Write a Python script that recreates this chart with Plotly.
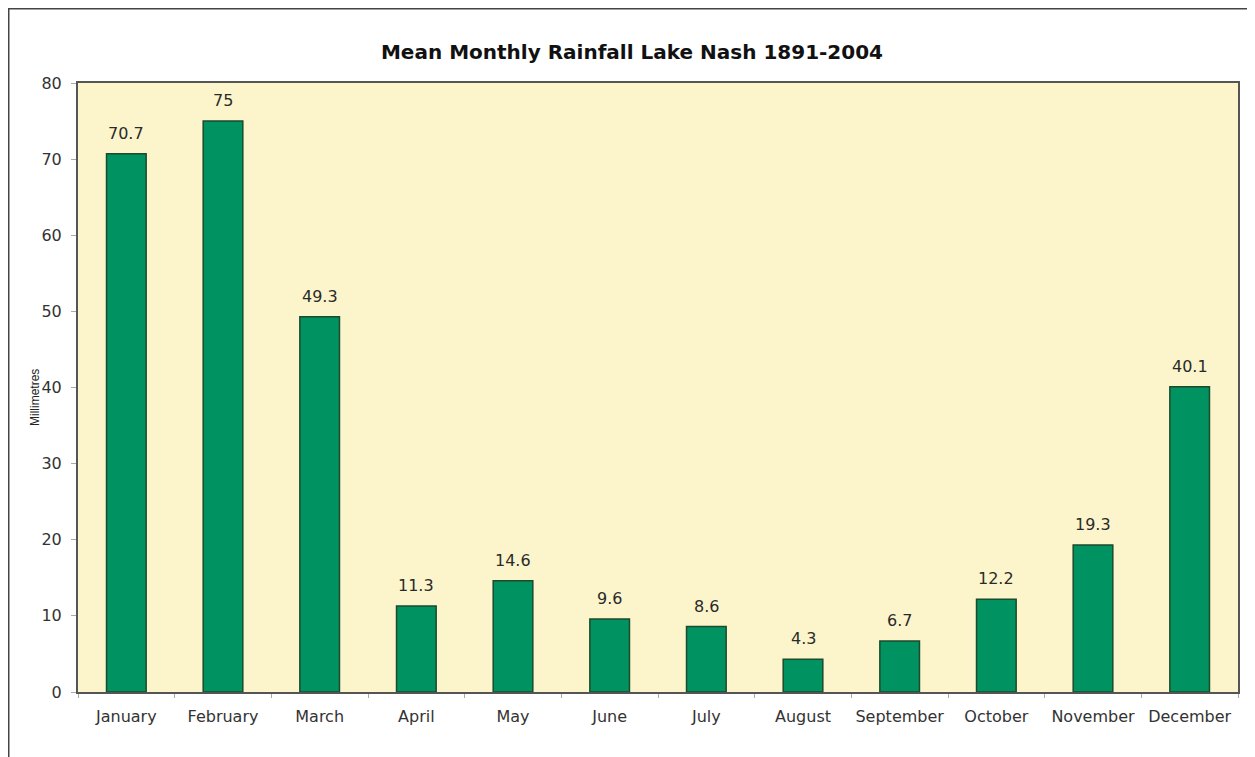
import plotly.graph_objects as go

months = ["January", "February", "March", "April", "May", "June", "July",
          "August", "September", "October", "November", "December"]
rainfall = [70.7, 75, 49.3, 11.3, 14.6, 9.6, 8.6, 4.3, 6.7, 12.2, 19.3, 40.1]
labels = ["70.7", "75", "49.3", "11.3", "14.6", "9.6", "8.6", "4.3", "6.7", "12.2", "19.3", "40.1"]
y_ticks = [0, 10, 20, 30, 40, 50, 60, 70, 80]

# page body has an 8px margin, so the figure is laid out 8px smaller
OFF = 8
W, H = 1255 - OFF, 757 - OFF
L, T = 78 - OFF, 83 - OFF
R = W - (1238 - OFF)
B = H - (692 - OFF)
pw, ph = W - L - R, H - T - B

def px_x(p):
    return (p - OFF - L) / pw

def px_y(p):
    return (H - B - (p - OFF)) / ph

FONT = "DejaVu Sans, Verdana, sans-serif"

fig = go.Figure()
fig.add_trace(go.Bar(
    x=months, y=rainfall,
    marker=dict(color="#009260", line=dict(color="#1b4a2c", width=1.5)),
    width=0.41, hoverinfo="x+y",
))

for m, v, t in zip(months, rainfall, labels):
    fig.add_annotation(x=m, y=v, text=t, showarrow=False, yanchor="bottom",
                       yshift=9, font=dict(family=FONT, size=16, color="#2a2a2a"))

fig.update_layout(
    width=W, height=H,
    margin=dict(l=L, r=R, t=T, b=B, autoexpand=False),
    paper_bgcolor="white", plot_bgcolor="#FCF5CC",
    showlegend=False,
    font=dict(family=FONT, size=16, color="#333333"),
    title=dict(text="<b>Mean Monthly Rainfall Lake Nash 1891-2004</b>",
               x=(632 - OFF) / W, xanchor="center", xref="container",
               y=1 - (52 - OFF) / H, yanchor="middle",
               font=dict(family=FONT, size=20, color="#111111")),
    xaxis=dict(showline=True, linecolor="#555555", linewidth=2, mirror=True,
               ticks="outside", ticklen=4, tickcolor="#aaaaaa", tickangle=0,
               automargin=False,
               tickson="boundaries", showgrid=False, ticklabelstandoff=9,
               tickfont=dict(family=FONT, size=16, color="#333333")),
    yaxis=dict(range=[0, 80], tickvals=y_ticks, showline=True, linecolor="#555555",
               linewidth=2, mirror=True, ticks="outside", ticklen=5,
               tickcolor="#aaaaaa", showgrid=False, zeroline=False,
               automargin=False, ticklabelstandoff=6,
               tickfont=dict(family=FONT, size=16, color="#333333")),
    bargap=0.59,
)

# rotated y-axis title
fig.add_annotation(xref="paper", yref="paper", x=px_x(35), y=px_y(398),
                   text="Millimetres", textangle=-90, showarrow=False,
                   xanchor="center", yanchor="middle",
                   font=dict(family="Liberation Sans, Arial", size=12, color="#222222"))

# outer frame around the chart (left, top, right)
fig.add_shape(type="path", xref="paper", yref="paper",
              path=(f"M {px_x(8.5)} {px_y(780)} L {px_x(8.5)} {px_y(8.5)} "
                    f"L {px_x(1252.5)} {px_y(8.5)} L {px_x(1252.5)} {px_y(780)}"),
              line=dict(color="#444444", width=2))

fig.write_html("out.html")
